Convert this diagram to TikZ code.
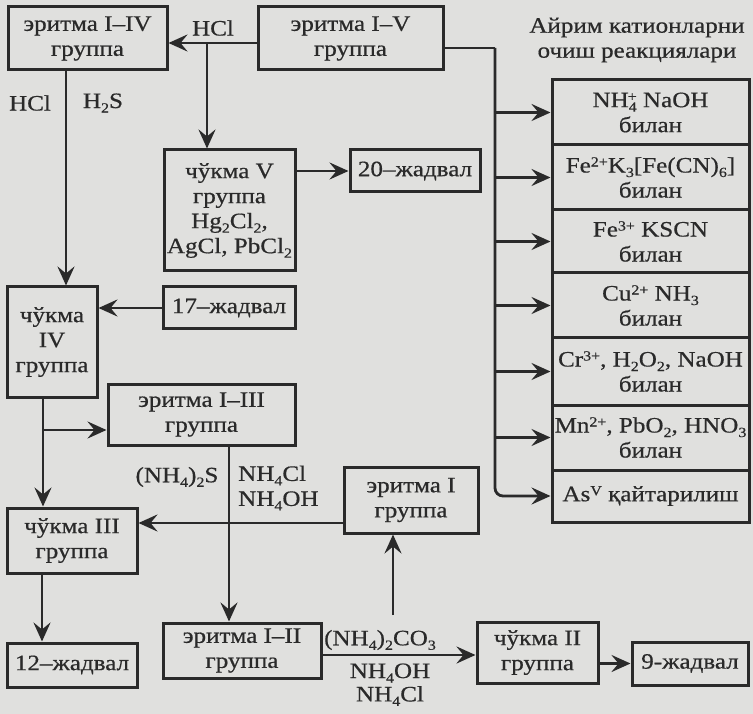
\documentclass[tikz,border=0pt]{standalone}
\usepackage{fontspec}
\setmainfont{Liberation Serif}[FakeStretch=1.14,FakeBold=0.6]
\usetikzlibrary{arrows.meta,calc}
\definecolor{ink}{RGB}{42,42,42}
\definecolor{paper}{RGB}{224,224,222}
\newcommand{\dn}[1]{\raisebox{-4.5pt}{\fontsize{14}{14}\selectfont #1}}
\newcommand{\up}[1]{\raisebox{6pt}{\fontsize{14}{14}\selectfont #1}}
\newcommand{\bx}[6]{\node[box, minimum width=#4, minimum height=#5] (#1) at (#2,#3) {#6};}
\begin{document}
\begin{tikzpicture}[x=1pt,y=-1pt,
  box/.style={draw=ink, line width=3pt, inner sep=0pt, align=center, text=ink, font=\fontsize{22}{25}\selectfont},
  lbl/.style={inner sep=0pt, text=ink, align=center, font=\fontsize{22}{25}\selectfont},
  ln/.style={draw=ink, line width=2.8pt},
  arr/.style={ln, -{Stealth[length=19pt,width=17pt,inset=7pt]}},
]
\fill[paper] (0,0) rectangle (753,714);
\useasboundingbox (0,0) rectangle (753,714);
% boxes
\bx{A}{87.5}{38.5}{159}{63}{эритма I–IV\\группа}
\bx{B}{350.5}{38.5}{185}{63}{эритма I–V\\группа}
\bx{C}{229.5}{210.5}{131}{121}{чўкма V\\группа\\Hg\dn{2}Cl\dn{2},\\AgCl, PbCl\dn{2}}
\bx{D}{415}{171}{130}{42}{20–жадвал}
\bx{E}{229}{308}{132}{42}{17–жадвал}
\bx{F}{52}{342}{90}{110}{чўкма\\IV\\группа}
\bx{G}{201.5}{414.5}{187}{61}{эритма I–III\\группа}
\bx{H}{72}{540.5}{130}{65}{чўкма III\\группа}
\bx{K}{72}{665}{130}{44}{12–жадвал}
\bx{J}{242}{650.5}{158}{55}{эритма I–II\\группа}
\bx{L}{411}{500}{134}{66}{эритма I\\группа}
\bx{M}{537.5}{652.5}{121}{61}{чўкма II\\группа}
\bx{N}{690}{663.5}{116}{43}{9-жадвал}
% right column
\bx{R1}{650.5}{112.5}{197}{65}{NH\dn{4}\llap{\up{+}} NaOH\\билан}
\bx{R2}{650.5}{177.5}{197}{65}{Fe\up{2+}K\dn{3}[Fe(CN)\dn{6}]\\билан}
\bx{R3}{650.5}{241.5}{197}{63}{Fe\up{3+} KSCN\\билан}
\bx{R4}{650.5}{305.5}{197}{65}{Cu\up{2+} NH\dn{3}\\билан}
\bx{R5}{650.5}{371.5}{197}{67}{Cr\up{3+}, H\dn{2}O\dn{2}, NaOH\\билан}
\bx{R6}{650.5}{437.5}{197}{65}{Mn\up{2+}, PbO\dn{2}, HNO\dn{3}\\билан}
\bx{R7}{650.5}{496}{197}{52}{As\up{V} қайтарилиш}
% labels
\node[lbl] (title) at (637,40) {Айрим катионларни\\очиш реакциялари};
\node[lbl] (hcl1) at (213,28) {HCl};
\node[lbl] (hcl2) at (30,103) {HCl};
\node[lbl] (h2s) at (103,103) {H\dn{2}S};
\node[lbl] (nh4s) at (177,477) {(NH\dn{4})\dn{2}S};
\node[lbl, align=left, anchor=west] (nh4mix) at (238,488) {NH\dn{4}Cl\\NH\dn{4}OH};
\node[lbl] (co3) at (380,640) {(NH\dn{4})\dn{2}CO\dn{3}};
\node[lbl] (nhoh) at (390,673) {NH\dn{4}OH};
\node[lbl] (nhcl) at (390,696) {NH\dn{4}Cl};
% connectors
\draw[arr] ([yshift=-4.5pt]B.west) -- ([yshift=-4.5pt]A.east);
\coordinate (hb) at (207,43);
\draw[arr] (hb) -- (hb |- C.north);
\draw[arr] (C.east |- D.west) -- (D.west);
\coordinate (bus) at (495,48);
\draw[ln] ([yshift=-9.5pt]B.east) -- (bus);
\draw[arr, rounded corners=8pt] (bus) |- (R7.west);
\foreach \r in {R1,R2,R3,R4,R5,R6} \draw[arr] (bus |- \r.west) -- (\r.west);
\coordinate (a1) at ([xshift=-21.5pt]A.south);
\draw[arr] (a1) -- (a1 |- F.north);
\draw[arr] (E.west) -- (E.west -| F.east);
\coordinate (f1) at ([xshift=-9pt]F.south);
\draw[arr] (f1) -- (f1 |- H.north);
\coordinate (g2) at ([yshift=-15.5pt]G.west);
\draw[arr] (f1 |- g2) -- (g2);
\coordinate (g1) at ([xshift=27.5pt]G.south);
\draw[arr] (g1) -- (g1 |- J.north);
\draw[arr] ([yshift=-23pt]L.west) -- ([yshift=-23pt]L.west -| H.east);
\coordinate (h1) at ([xshift=-30pt]H.south);
\draw[arr] (h1) -- (h1 |- K.north);
\draw[arr] ([yshift=-4.5pt]J.east) -- ([yshift=-4.5pt]J.east -| M.west);
\coordinate (c1) at (393,615);
\draw[arr] (c1) -- (c1 |- L.south);
\draw[arr] (N.west -| M.east) -- (N.west);
\end{tikzpicture}
\end{document}
